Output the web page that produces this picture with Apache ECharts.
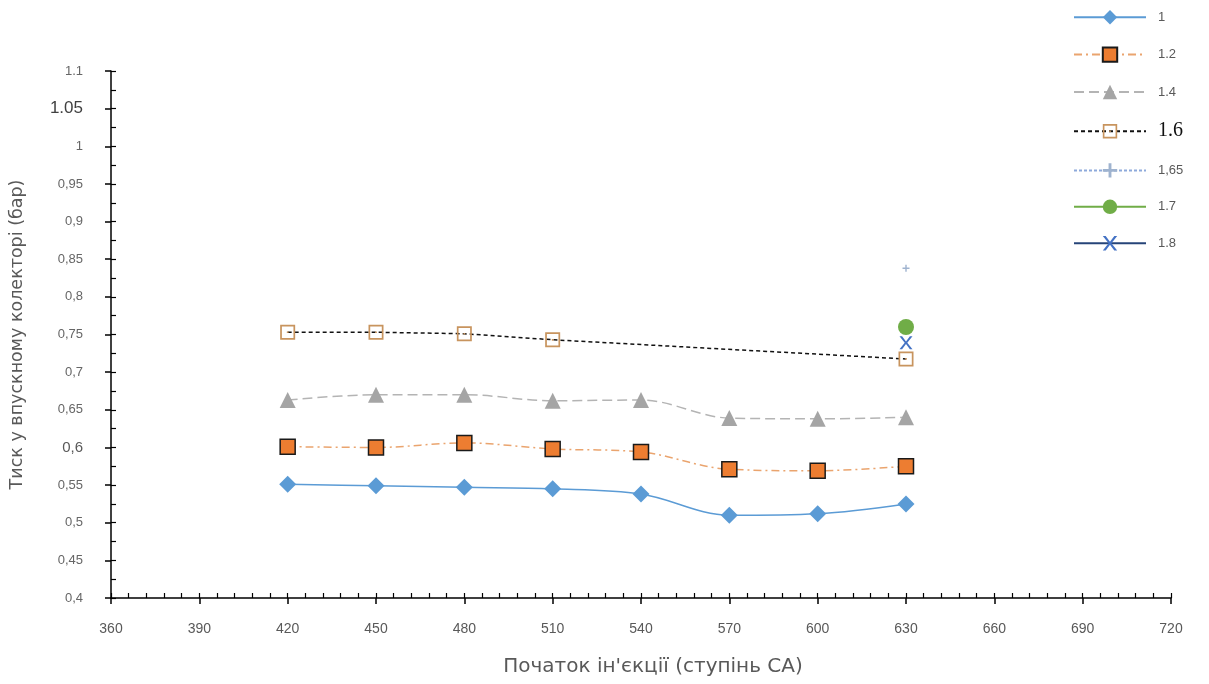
<!DOCTYPE html>
<html>
<head>
<meta charset="utf-8">
<script src="https://cdn.jsdelivr.net/npm/echarts@6/dist/echarts.min.js"></script>
<style>
html,body{margin:0;padding:0;background:#fff;}
#chart{width:1209px;height:684px;}
</style>
</head>
<body>
<div id="chart"></div>
<script>
// ---- data ----
const xValues = [420, 450, 480, 510, 540, 570, 600, 630];
const s1_0 = [0.551, 0.549, 0.547, 0.545, 0.538, 0.510, 0.512, 0.525];
const s1_2 = [0.601, 0.600, 0.606, 0.598, 0.594, 0.571, 0.569, 0.575];
const s1_4 = [0.663, 0.670, 0.670, 0.662, 0.663, 0.639, 0.638, 0.640];
const s1_6 = [0.753, 0.753, 0.751, 0.743, null, null, null, 0.7175];
const s1_65 = [[630, 0.838]];
const s1_7 = [[630, 0.760]];
const s1_8 = [[630, 0.739]];
const seriesNames = ['1', '1.2', '1.4', '1.6', '1,65', '1.7', '1.8'];
const yTickLabels = {
  '0.4': '0,4', '0.45': '0,45', '0.5': '0,5', '0.55': '0,55', '0.6': '0,6',
  '0.65': '0,65', '0.7': '0,7', '0.75': '0,75', '0.8': '0,8', '0.85': '0,85',
  '0.9': '0,9', '0.95': '0,95', '1': '1', '1.05': '1.05', '1.1': '1.1'
};
const xTitle = "Початок ін'єкції (ступінь СА)";
const yTitle = 'Тиск у впускному колекторі (бар)';

function pair(xs, ys) { return xs.map((x, i) => [x, ys[i]]); }

const FONT = '"Liberation Sans", Arial, sans-serif';
const chart = echarts.init(document.getElementById('chart'));

const squareHollow = 'path://M0,0H14V14H0Z M1.6,1.6V12.4H12.4V1.6Z M6.2,6.2H7.8V7.8H6.2Z';
const xMark = 'path://M0,0L2,0L5,4L8,0L10,0L6,5L10,10L8,10L5,6L2,10L0,10L4,5Z';
const plusMark = 'path://M4,0H6V4H10V6H6V10H4V6H0V4H4Z';

chart.setOption({
  animation: false,
  backgroundColor: '#fff',
  textStyle: { fontFamily: FONT },
  grid: { left: 111, right: 38, top: 71, bottom: 86, containLabel: false, outerBoundsMode: 'none' },
  legend: {
    orient: 'vertical',
    left: 1068,
    top: 5,
    itemWidth: 72,
    itemHeight: 18,
    itemGap: 22,
    data: seriesNames,
    textStyle: {
      fontSize: 13, color: '#595959', fontFamily: FONT, padding: [0, 0, 0, 7],
      rich: { big: { fontSize: 20, color: '#111', fontFamily: '"Liberation Serif", serif' } }
    },
    formatter: function (n) { return n === '1.6' ? '{big|' + n + '}' : n; }
  },
  xAxis: [
    {
      type: 'value', min: 360, max: 720, interval: 30,
      name: xTitle, nameLocation: 'middle', nameGap: 59,
      nameTextStyle: { fontSize: 20, color: '#595959', fontFamily: '"DejaVu Sans", sans-serif', padding: [0, 0, 0, 24] },
      axisLine: { show: true, onZero: false, lineStyle: { color: '#000', width: 1.5 } },
      axisTick: { show: true, inside: false, length: 6, lineStyle: { color: '#000', width: 1.5 } },
      axisLabel: { margin: 24, fontSize: 14, color: '#595959' },
      splitLine: { show: false }
    },
    {
      type: 'value', min: 360, max: 720, interval: 6, position: 'bottom',
      axisLine: { show: false },
      axisTick: { show: true, inside: true, length: 5, lineStyle: { color: '#000', width: 1.2 } },
      axisLabel: { show: false },
      splitLine: { show: false }
    }
  ],
  yAxis: [
    {
      type: 'value', min: 0.4, max: 1.1, interval: 0.05,
      name: yTitle, nameLocation: 'middle', nameGap: 85,
      nameTextStyle: { fontSize: 17.5, color: '#595959', fontFamily: '"DejaVu Sans", sans-serif' },
      axisLine: { show: true, onZero: false, lineStyle: { color: '#000', width: 1.5 } },
      axisTick: { show: true, inside: false, length: 6, lineStyle: { color: '#000', width: 1.5 } },
      axisLabel: {
        margin: 28, fontSize: 13, color: '#666666',
        formatter: function (v) {
          const k = String(Math.round(v * 100) / 100);
          const t = yTickLabels[k] || k;
          if (t === '1.05') return '{c|' + t + '}';
          if (t === '0,6') return '{b|' + t + '}';
          return t;
        },
        rich: { b: { fontSize: 15, color: '#595959' }, c: { fontSize: 17, color: '#404040' } }
      },
      splitLine: { show: false }
    },
    {
      type: 'value', min: 0.4, max: 1.1, interval: 0.025, position: 'left',
      axisLine: { show: false },
      axisTick: { show: true, inside: true, length: 5, lineStyle: { color: '#000', width: 1.2 } },
      axisLabel: { show: false },
      splitLine: { show: false }
    }
  ],
  series: [
    {
      name: '1', type: 'line', smooth: 0.35, data: pair(xValues, s1_0),
      symbol: 'diamond', symbolSize: 17,
      lineStyle: { color: '#5b9bd5', width: 1.5 },
      itemStyle: { color: '#5b9bd5' }
    },
    {
      name: '1.2', type: 'line', smooth: 0.35, data: pair(xValues, s1_2),
      symbol: 'rect', symbolSize: 15,
      lineStyle: { color: '#eaa46e', width: 1.5, type: [8, 4, 2, 4] },
      itemStyle: { color: '#ed7d31', borderColor: '#1a1a1a', borderWidth: 1.5 }
    },
    {
      name: '1.4', type: 'line', smooth: 0.35, data: pair(xValues, s1_4),
      symbol: 'triangle', symbolSize: 16,
      lineStyle: { color: '#b4b4b4', width: 1.5, type: [10, 5] },
      itemStyle: { color: '#a5a5a5' }
    },
    {
      name: '1.6', type: 'line', connectNulls: true, data: pair(xValues, s1_6),
      symbol: squareHollow, symbolSize: 15,
      lineStyle: { color: '#111', width: 1.5, type: [4, 3] },
      itemStyle: { color: '#c8945e' }
    },
    {
      name: '1,65', type: 'line', data: s1_65,
      symbol: plusMark, symbolSize: 7,
      lineStyle: { color: '#8eaadb', width: 1.2, type: [3, 2] },
      itemStyle: { color: '#9fb3cf' }
    },
    {
      name: '1.7', type: 'line', data: s1_7,
      symbol: 'circle', symbolSize: 16,
      lineStyle: { color: '#70ad47', width: 1.5 },
      itemStyle: { color: '#70ad47' }
    },
    {
      name: '1.8', type: 'line', data: s1_8,
      symbol: xMark, symbolSize: 13,
      lineStyle: { color: '#264478', width: 1.5 },
      itemStyle: { color: '#4472c4' }
    }
  ]
});
</script>
</body>
</html>
